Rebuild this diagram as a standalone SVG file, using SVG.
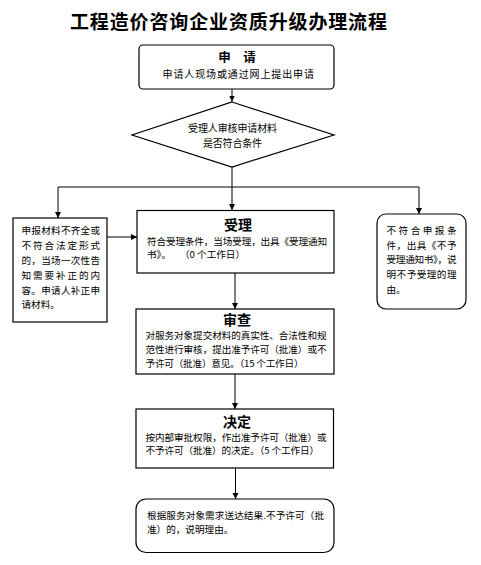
<svg xmlns="http://www.w3.org/2000/svg" width="481" height="565" viewBox="0 0 481 565">
<style>
.box{fill:#fff;stroke:#000;stroke-width:1.2}
.t{font-family:"Noto Sans CJK SC","Liberation Sans",sans-serif;font-size:9.6px;fill:#000}
.h{font-family:"Noto Sans CJK SC","Liberation Sans",sans-serif;font-size:14px;font-weight:bold;fill:#000;text-anchor:middle}
.c{fill:none;stroke:#000;stroke-width:1}
</style>
<defs>
<marker id="arr" markerUnits="userSpaceOnUse" markerWidth="8" markerHeight="8" refX="6" refY="3" orient="auto">
<path d="M0,0 L6,3 L0,6 Z" fill="#000"/>
</marker>
</defs>
<rect width="481" height="565" fill="#fff"/>
<text x="228.5" y="29" text-anchor="middle" textLength="317" lengthAdjust="spacing" style="font-family:'Noto Sans CJK SC',sans-serif;font-size:19px;font-weight:bold">工程造价咨询企业资质升级办理流程</text>

<g id="connectors">
<path class="c" d="M232,89 V101.5" marker-end="url(#arr)"/>
<path class="c" d="M232,167 V210" marker-end="url(#arr)"/>
<path class="c" d="M232,187 H58 V218" marker-end="url(#arr)"/>
<path class="c" d="M232,187 H419 V214" marker-end="url(#arr)"/>
<path class="c" d="M107,237 H137" marker-end="url(#arr)"/>
<path class="c" d="M235,273 V309" marker-end="url(#arr)"/>
<path class="c" d="M235,374 V409" marker-end="url(#arr)"/>
<path class="c" d="M235.5,468 V499" marker-end="url(#arr)"/>
</g>

<g id="apply">
<rect class="box" x="139" y="45" width="195" height="44" rx="4"/>
<text class="h" x="237" y="61.5" style="font-size:12.5px">申　请</text>
<text class="t" x="162.5" y="78" textLength="151.5" lengthAdjust="spacing" style="font-size:10px">申请人现场或通过网上提出申请</text>
</g>

<g id="check">
<polygon class="box" points="232,102 334,135 232,167 132,135"/>
<text class="t" x="188" y="131.5" textLength="89" lengthAdjust="spacing" style="font-size:10px">受理人审核申请材料</text>
<text class="t" x="203" y="146.5" textLength="59" lengthAdjust="spacing" style="font-size:10px">是否符合条件</text>
</g>

<g id="supplement">
<rect class="box" x="13" y="218" width="94" height="104"/>
<text class="t" x="21.5" y="234" textLength="78.5" lengthAdjust="spacing">申报材料不齐全或</text>
<text class="t" x="21.5" y="249" textLength="78.5" lengthAdjust="spacing">不符合法定形式</text>
<text class="t" x="21.5" y="264" textLength="78.5" lengthAdjust="spacing">的，当场一次性告</text>
<text class="t" x="21.5" y="279" textLength="78.5" lengthAdjust="spacing">知需要补正的内</text>
<text class="t" x="21.5" y="293.5" textLength="78.5" lengthAdjust="spacing">容。申请人补正申</text>
<text class="t" x="21.5" y="308">请材料。</text>
</g>

<g id="accept">
<rect class="box" x="137" y="210.5" width="197" height="62.5"/>
<text class="h" x="238" y="230">受理</text>
<text class="t" x="147" y="244.5" textLength="180" lengthAdjust="spacing">符合受理条件，当场受理，出具《受理通知</text>
<text class="t" y="257.5"><tspan x="147">书》。</tspan><tspan x="180">（0 个工作日）</tspan></text>
</g>

<g id="reject">
<rect class="box" x="377" y="214" width="89" height="95" rx="9"/>
<text class="t" x="386.5" y="234" textLength="70" lengthAdjust="spacing">不符合申报条</text>
<text class="t" x="386.5" y="248.5" textLength="70" lengthAdjust="spacing">件，出具《不予</text>
<text class="t" x="386.5" y="263" textLength="70" lengthAdjust="spacing">受理通知书》，说</text>
<text class="t" x="386.5" y="277.5" textLength="70" lengthAdjust="spacing">明不予受理的理</text>
<text class="t" x="386.5" y="292.5">由。</text>
</g>

<g id="review">
<rect class="box" x="136" y="309" width="198" height="65"/>
<text class="h" x="237" y="325">审查</text>
<text class="t" x="145.5" y="339" textLength="181" lengthAdjust="spacing">对服务对象提交材料的真实性、合法性和规</text>
<text class="t" x="145.5" y="353" textLength="181" lengthAdjust="spacing">范性进行审核，提出准予许可（批准）或不</text>
<text class="t" x="145.5" y="366.5" textLength="158" lengthAdjust="spacing">予许可（批准）意见。（15 个工作日）</text>
</g>

<g id="decide">
<rect class="box" x="136" y="409" width="197.5" height="59"/>
<text class="h" x="237" y="427">决定</text>
<text class="t" x="145.5" y="441" textLength="181" lengthAdjust="spacing">按内部审批权限，作出准予许可（批准）或</text>
<text class="t" x="145.5" y="454" textLength="173.5" lengthAdjust="spacing">不予许可（批准）的决定。（5 个工作日）</text>
</g>

<g id="deliver">
<rect class="box" x="136" y="499" width="198" height="53.5" rx="10"/>
<text class="t" x="147" y="519" textLength="177" lengthAdjust="spacing">根据服务对象需求送达结果.不予许可（批</text>
<text class="t" x="147" y="532.5">准）的，说明理由。</text>
</g>
</svg>
